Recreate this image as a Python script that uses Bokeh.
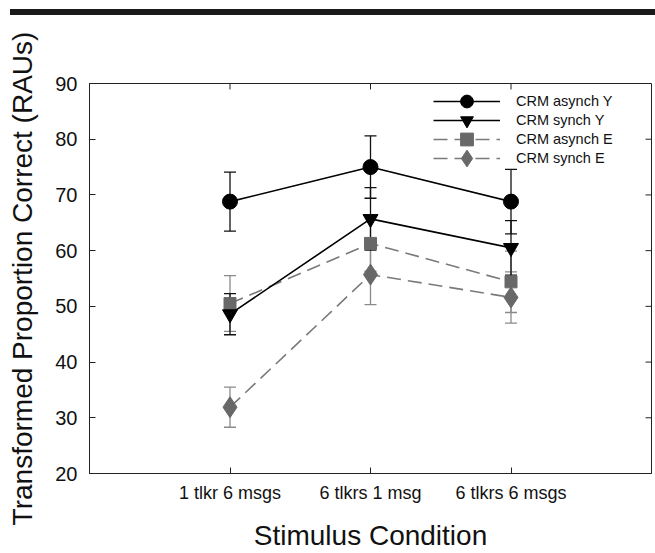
from bokeh.plotting import figure
from bokeh.models import (ColumnDataSource, Whisker, TeeHead, FixedTicker,
                          Legend, LegendItem, Range1d, Div)
from bokeh.layouts import column
from bokeh.embed import file_html
from bokeh.resources import INLINE

conditions = ["1 tlkr 6 msgs", "6 tlkrs 1 msg", "6 tlkrs 6 msgs"]
positions = [1, 2, 3]

asynch_Y = [68.8, 75.0, 68.8]
asynch_Y_err = [5.3, 5.6, 5.8]
synch_Y = [48.6, 65.7, 60.5]
synch_Y_err = [3.7, 5.6, 4.9]
asynch_E = [50.5, 61.3, 54.4]
asynch_E_err = [5.0, 5.0, 5.5]
synch_E = [31.9, 55.7, 51.6]
synch_E_err = [3.6, 5.4, 4.6]

y_ticks = [20, 30, 40, 50, 60, 70, 80, 90]
legend_order = ["CRM asynch Y", "CRM synch Y", "CRM asynch E", "CRM synch E"]

FONT = "Liberation Sans"
GRAY_M = "#686868"
GRAY_L = "#7a7a7a"
GRAY_E = "#8a8a8a"
AXC = "#222222"

X0, X1, Y0, Y1 = 0, 4, 20, 90
W, H = 655, 538
BL, BR, BT, BB = 89, 4, 68, 77
FW, FH = W - BL - BR, H - BT - BB
TICK = 6

p = figure(width=W, height=H, output_backend="svg", toolbar_location=None,
           x_range=Range1d(X0, X1), y_range=Range1d(Y0, Y1),
           min_border_left=BL, min_border_right=BR, min_border_top=BT, min_border_bottom=BB)
p.grid.visible = False
p.outline_line_color = AXC
p.background_fill_color = "white"
p.border_fill_color = "white"

xa = p.xaxis[0]
xa.ticker = FixedTicker(ticks=positions)
xa.major_label_overrides = {pos: lab for pos, lab in zip(positions, conditions)}
ya = p.yaxis[0]
ya.ticker = FixedTicker(ticks=y_ticks)
for ax in (xa, ya):
    ax.major_tick_in = TICK
    ax.major_tick_out = 0
    ax.minor_tick_line_color = None
    ax.axis_line_color = AXC
    ax.major_tick_line_color = AXC
    ax.major_label_text_font = FONT
    ax.major_label_text_color = "#111111"
    ax.axis_label_text_font = FONT
    ax.axis_label_text_font_style = "normal"
    ax.axis_label_text_color = "#111111"
    ax.axis_label_text_font_size = "28px"
xa.major_label_text_font_size = "18px"
ya.major_label_text_font_size = "20px"
xa.axis_label = "Stimulus Condition"
ya.axis_label = "Transformed Proportion Correct (RAUs)"
xa.major_label_standoff = 9
xa.axis_label_standoff = 14
ya.major_label_standoff = 12
ya.axis_label_standoff = 14

# inward ticks on the right and top frame edges (mirrors of the left/bottom axes)
dx = TICK * (X1 - X0) / FW
dy = TICK * (Y1 - Y0) / FH
inner_y = [t for t in y_ticks if Y0 < t < Y1]
p.segment(x0=[X1] * len(inner_y), y0=inner_y, x1=[X1 - dx] * len(inner_y), y1=inner_y,
          line_color=AXC, line_width=1)
p.segment(x0=positions, y0=[Y1] * len(positions), x1=positions, y1=[Y1 - dy] * len(positions),
          line_color=AXC, line_width=1)

series = [
    ("CRM synch E", synch_E, synch_E_err, GRAY_M, GRAY_L, GRAY_E, "14 7", "diamond", 21),
    ("CRM asynch E", asynch_E, asynch_E_err, GRAY_M, GRAY_L, GRAY_E, "14 7", "square", 12),
    ("CRM synch Y", synch_Y, synch_Y_err, "black", "black", "#111111", "solid", "inverted_triangle", 15),
    ("CRM asynch Y", asynch_Y, asynch_Y_err, "black", "black", "#111111", "solid", "circle", 15),
]

items = {}
for name, vals, errs, mcol, lcol, ecol, dash, marker, size in series:
    src = ColumnDataSource(dict(
        x=positions, y=vals,
        upper=[v + e for v, e in zip(vals, errs)],
        lower=[v - e for v, e in zip(vals, errs)],
    ))
    w = Whisker(base="x", upper="upper", lower="lower", source=src,
                line_color=ecol, line_width=1.3, level="underlay",
                upper_head=TeeHead(size=12, line_color=ecol, line_width=1.3),
                lower_head=TeeHead(size=12, line_color=ecol, line_width=1.3))
    p.add_layout(w)
    r_line = p.line("x", "y", source=src, line_color=lcol, line_width=1.6, line_dash=dash)
    r_mark = p.scatter("x", "y", source=src, marker=marker, size=size,
                       fill_color=mcol, line_color=mcol)
    items[name] = [r_line, r_mark]

# one legend per row so that rows can sit closer than the glyph box height
ROW = 19
glyph_heights = {"CRM asynch Y": 32, "CRM synch Y": 32, "CRM asynch E": 32, "CRM synch E": 42}
top_center = 21  # first row centre, px below frame top
for i, name in enumerate(legend_order):
    gh = glyph_heights[name]
    center_from_top = top_center + i * ROW
    bottom_from_frame_bottom = FH - center_from_top - gh / 2
    lg = Legend(items=[LegendItem(label=name, renderers=items[name])],
                location=(344, bottom_from_frame_bottom), glyph_width=67, glyph_height=gh,
                label_standoff=16, label_text_font=FONT, label_text_font_size="14.5px",
                label_text_color="#111111", padding=0, margin=0,
                border_line_color=None, background_fill_alpha=0)
    p.add_layout(lg, "center")

bar = Div(text="", width=645, height=6, margin=(9, 0, 0, 10),
          styles={"background-color": "#1a1a1a"})
layout = column(bar, p, spacing=0)

open("out.html", "w").write(file_html(layout, INLINE))
